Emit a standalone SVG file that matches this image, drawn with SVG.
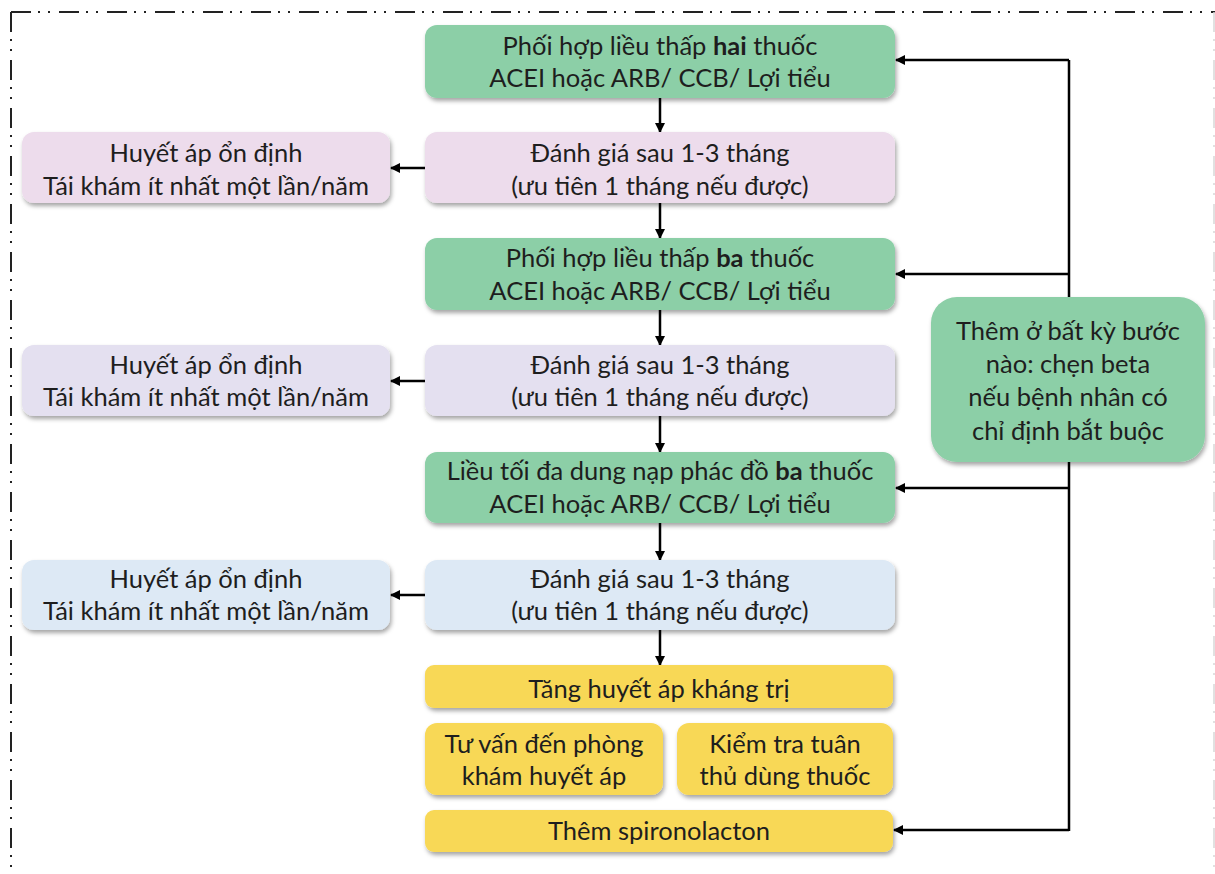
<svg xmlns="http://www.w3.org/2000/svg" width="1215" height="874" viewBox="0 0 1215 874">
<defs>
<filter id="sh" x="-10%" y="-20%" width="120%" height="150%">
<feDropShadow dx="1.5" dy="3" stdDeviation="2" flood-color="#000" flood-opacity="0.35"/>
</filter>
<marker id="ah" viewBox="0 0 10 10" refX="9" refY="5" markerWidth="10" markerHeight="10" markerUnits="userSpaceOnUse" orient="auto">
<path d="M0,0 L10,5 L0,10 z" fill="#000"/>
</marker>
</defs>
<style>
text{font-family:Lato,"Noto Sans",sans-serif;font-size:25.5px;fill:#1e1e1e;text-anchor:middle}
.b{font-weight:bold}
.g{fill:#8ccfa7}
.p{fill:#eddcec}
.l{fill:#e4e0f0}
.u{fill:#dde9f5}
.y{fill:#f8d857}
rect{filter:url(#sh)}
.c{stroke:#000;stroke-width:2.5;fill:none}
.a{marker-end:url(#ah)}
.border{stroke:#222;stroke-width:2;fill:none;stroke-dasharray:20 7 2 8 2 9}
</style>
<g id="frame">
<path class="border" d="M11,12 H1215"/>
<path class="border" d="M11,12 V874"/>
<path d="M1214,12 V874" stroke="#d8d8d8" stroke-width="1.5" stroke-dasharray="20 7 2 8 2 9" fill="none"/>
</g>
<g id="connectors">
<path class="c a" d="M660,98 V132"/>
<path class="c a" d="M660,203 V238"/>
<path class="c a" d="M660,310 V345"/>
<path class="c a" d="M660,416 V452"/>
<path class="c a" d="M660,523 V560"/>
<path class="c a" d="M660,630 V665"/>
<path class="c a" d="M425,168 H391"/>
<path class="c a" d="M425,381 H391"/>
<path class="c a" d="M425,595 H391"/>
<path class="c" d="M1069,60 V831"/>
<path class="c a" d="M1069,60 H896"/>
<path class="c a" d="M1069,274 H896"/>
<path class="c a" d="M1069,488 H896"/>
<path class="c a" d="M1069,830 H894"/>
</g>
<g id="n1"><rect class="g" x="425" y="25" width="470" height="73" rx="12"/>
<text x="660" y="55">Phối hợp liều thấp <tspan class="b">hai</tspan> thuốc</text>
<text x="660" y="87">ACEI hoặc ARB/ CCB/ Lợi tiểu</text></g>
<g id="n2"><rect class="p" x="425" y="132" width="470" height="71" rx="12"/>
<text x="660" y="162">Đánh giá sau 1-3 tháng</text>
<text x="660" y="195">(ưu tiên 1 tháng nếu được)</text></g>
<g id="l1"><rect class="p" x="22" y="132" width="368" height="71" rx="12"/>
<text x="206" y="162">Huyết áp ổn định</text>
<text x="206" y="195">Tái khám ít nhất một lần/năm</text></g>
<g id="n3"><rect class="g" x="425" y="238" width="470" height="72" rx="12"/>
<text x="660" y="267">Phối hợp liều thấp <tspan class="b">ba</tspan> thuốc</text>
<text x="660" y="300">ACEI hoặc ARB/ CCB/ Lợi tiểu</text></g>
<g id="n4"><rect class="l" x="425" y="345" width="470" height="71" rx="12"/>
<text x="660" y="374">Đánh giá sau 1-3 tháng</text>
<text x="660" y="406">(ưu tiên 1 tháng nếu được)</text></g>
<g id="l2"><rect class="l" x="22" y="345" width="368" height="71" rx="12"/>
<text x="206" y="374">Huyết áp ổn định</text>
<text x="206" y="406">Tái khám ít nhất một lần/năm</text></g>
<g id="n5"><rect class="g" x="425" y="452" width="470" height="71" rx="12"/>
<text x="660" y="480">Liều tối đa dung nạp phác đồ <tspan class="b">ba</tspan> thuốc</text>
<text x="660" y="513">ACEI hoặc ARB/ CCB/ Lợi tiểu</text></g>
<g id="n6"><rect class="u" x="425" y="560" width="470" height="70" rx="12"/>
<text x="660" y="588">Đánh giá sau 1-3 tháng</text>
<text x="660" y="620">(ưu tiên 1 tháng nếu được)</text></g>
<g id="l3"><rect class="u" x="22" y="560" width="368" height="70" rx="12"/>
<text x="206" y="588">Huyết áp ổn định</text>
<text x="206" y="620">Tái khám ít nhất một lần/năm</text></g>
<g id="y1"><rect class="y" x="425" y="665" width="468" height="43" rx="9"/>
<text x="659" y="698">Tăng huyết áp kháng trị</text></g>
<g id="y2"><rect class="y" x="425" y="723" width="238" height="72" rx="12"/>
<text x="544" y="753">Tư vấn đến phòng</text>
<text x="544" y="785">khám huyết áp</text></g>
<g id="y3"><rect class="y" x="677" y="723" width="216" height="72" rx="12"/>
<text x="785" y="753">Kiểm tra tuân</text>
<text x="785" y="785">thủ dùng thuốc</text></g>
<g id="y4"><rect class="y" x="425" y="810" width="468" height="42" rx="9"/>
<text x="659" y="840">Thêm spironolacton</text></g>
<g id="rb"><rect class="g" x="931" y="297" width="274" height="165" rx="26"/>
<text x="1068" y="340">Thêm ở bất kỳ bước</text>
<text x="1068" y="373">nào: chẹn beta</text>
<text x="1068" y="406">nếu bệnh nhân có</text>
<text x="1068" y="440">chỉ định bắt buộc</text></g>
</svg>
